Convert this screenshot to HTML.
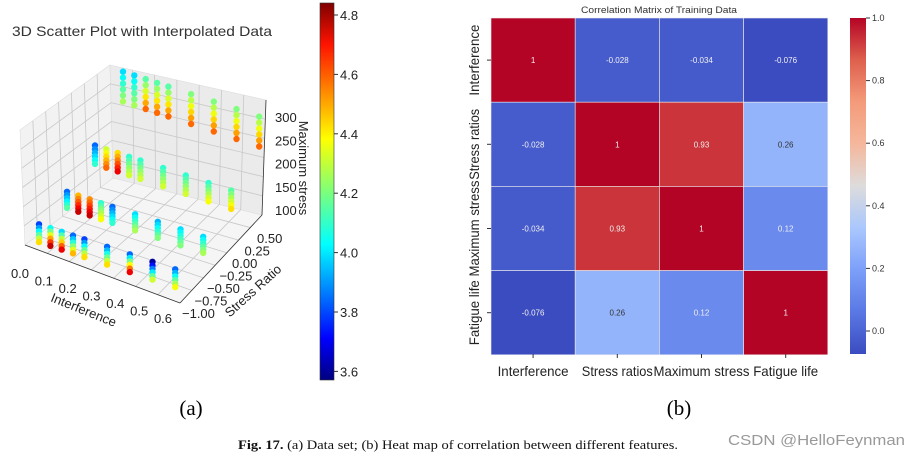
<!DOCTYPE html>
<html><head><meta charset="utf-8"><style>
body{margin:0;background:#fff;width:908px;height:456px;overflow:hidden;font-family:"Liberation Sans",sans-serif}
svg{position:absolute;left:0;top:0}
</style></head><body>
<svg id="s" width="908" height="456" viewBox="0 0 908 456">
<text x="12" y="36" font-size="14" fill="#333" textLength="260" lengthAdjust="spacingAndGlyphs">3D Scatter Plot with Interpolated Data</text>
<g id="panes">
<polygon points="20,130 110,65 113,178 25,245" fill="#f2f2f2" stroke="#ddd" stroke-width="0.6"/>
<polygon points="110,65 266,100 262,215 113,178" fill="#ebebeb" stroke="#ddd" stroke-width="0.6"/>
<polygon points="25,245 113,178 262,215 180,303" fill="#f5f5f5" stroke="#ddd" stroke-width="0.6"/>
</g>
<g id="grid" stroke="#c8c8c8" stroke-width="0.8" fill="none"></g>
<g id="dots"></g>
<line x1="266" y1="100" x2="262" y2="215" stroke="#333" stroke-width="0.8"/>
<line x1="25" y1="245" x2="180" y2="303" stroke="#333" stroke-width="0.8"/>
<line x1="180" y1="303" x2="262" y2="215" stroke="#333" stroke-width="0.8"/>
<g font-size="13" fill="#222" id="ticks3d"></g>
<text transform="translate(82,314) rotate(22)" font-size="13" text-anchor="middle" fill="#222">Interference</text>
<text transform="translate(256,294) rotate(-42)" font-size="13" text-anchor="middle" fill="#222">Stress Ratio</text>
<text transform="translate(299,168) rotate(90)" font-size="13" text-anchor="middle" fill="#222">Maximum stress</text>
<defs><linearGradient id="jet" x1="0" y1="1" x2="0" y2="0">
<stop offset="0" stop-color="#00007f"/><stop offset="0.11" stop-color="#0000ff"/><stop offset="0.36" stop-color="#00ffff"/><stop offset="0.5" stop-color="#7dff7a"/><stop offset="0.64" stop-color="#ffff00"/><stop offset="0.89" stop-color="#ff1300"/><stop offset="1" stop-color="#7f0000"/></linearGradient>
<linearGradient id="cw" x1="0" y1="1" x2="0" y2="0">
<stop offset="0" stop-color="#3b4cc0"/><stop offset="0.125" stop-color="#5a78e4"/><stop offset="0.25" stop-color="#7c9ff9"/><stop offset="0.375" stop-color="#aac7fd"/><stop offset="0.5" stop-color="#dddcdc"/><stop offset="0.625" stop-color="#f5b79c"/><stop offset="0.75" stop-color="#f49b7a"/><stop offset="0.875" stop-color="#de604d"/><stop offset="1" stop-color="#b40426"/></linearGradient></defs>
<rect x="320" y="3" width="14" height="377" fill="url(#jet)" stroke="#333" stroke-width="0.6"/>
<g id="cb1" font-size="13" fill="#222"></g>
<text x="659" y="13" font-size="9" text-anchor="middle" fill="#333" textLength="156" lengthAdjust="spacingAndGlyphs">Correlation Matrix of Training Data</text>
<g id="heat"></g>
<rect x="850" y="18" width="16" height="336" fill="url(#cw)"/>
<g id="cb2" font-size="9" fill="#333"></g>
<text x="191" y="415" font-size="21" text-anchor="middle" font-family="Liberation Serif,serif">(a)</text>
<text x="679" y="415" font-size="21" text-anchor="middle" font-family="Liberation Serif,serif">(b)</text>
<text x="238" y="449" font-size="13" font-family="Liberation Serif,serif" fill="#111" textLength="440" lengthAdjust="spacingAndGlyphs"><tspan font-weight="bold">Fig. 17.</tspan> (a) Data set; (b) Heat map of correlation between different features.</text>
<text x="728" y="445" font-size="15" fill="#999" textLength="177" lengthAdjust="spacingAndGlyphs">CSDN @HelloFeynman</text>
</svg>
<script>
const NS="http://www.w3.org/2000/svg";
const interference=[0,0.05,0.1,0.15,0.2,0.3,0.4,0.5,0.6];
const stressRatios=[-1,-0.5,0,0.5];
const stressMin=[105,128,168,240];
const stressMax=[136,156,200,292];
const lifeTop=[[3.8,4.05,4.0,3.85,3.8,3.85,3.85,3.6,3.85],[3.85,4.45,4.5,4.1,3.85,4.0,3.95,4.0,4.0],[3.85,4.3,4.4,4.1,4.1,4.1,4.1,4.1,4.15],[4.0,4.0,4.15,4.15,4.15,4.2,4.2,4.2,4.2]];
const lifeBottom=[[4.4,4.75,4.7,4.45,4.4,4.4,4.7,4.3,4.35],[4.15,4.75,4.75,4.35,4.1,4.25,4.2,4.2,4.25],[4.1,4.55,4.7,4.3,4.3,4.3,4.3,4.35,4.4],[4.25,4.25,4.55,4.55,4.55,4.55,4.55,4.55,4.55]];
const correlations=[[1,-0.028,-0.034,-0.076],[-0.028,1,0.93,0.26],[-0.034,0.93,1,0.12],[-0.076,0.26,0.12,1]];
const features=["Interference","Stress ratios","Maximum stress","Fatigue life"];
const lifeTicks=[3.6,3.8,4.0,4.2,4.4,4.6,4.8];
const corrTicks=[0.0,0.2,0.4,0.6,0.8,1.0];
const xTicks=[0,0.1,0.2,0.3,0.4,0.5,0.6];
const yTicks=[-1,-0.75,-0.5,-0.25,0,0.25,0.5];
const zTicks=[100,150,200,250,300];

function proj(i,r,s){return [39+i*227+(r+1)*56, 245+i*75-(r+1)*42-(s-100)*0.575];}
function jet(v){const t=Math.max(0,Math.min(1,(v-3.56)/(4.84-3.56)));
 const c=x=>Math.round(255*Math.max(0,Math.min(1,1.5-Math.abs(4*t-x))));return `rgb(${c(3)},${c(2)},${c(1)})`;}
const CW=[[59,76,192],[90,120,228],[124,159,249],[170,199,253],[221,220,220],[245,183,156],[244,155,122],[222,96,77],[180,4,38]];
function cw(v){let t=(v+0.076)/1.076;t=Math.max(0,Math.min(1,t))*8;const k=Math.min(7,Math.floor(t)),f=t-k;
 return `rgb(${CW[k].map((a,j)=>Math.round(a+(CW[k+1][j]-a)*f)).join(',')})`;}
function mk(tag,at,parent,txt){const e=document.createElementNS(NS,tag);for(const k in at)e.setAttribute(k,at[k]);if(txt!==undefined)e.textContent=txt;parent.appendChild(e);return e;}

const grid=document.getElementById('grid');
function lerp(a,b,t){return [a[0]+(b[0]-a[0])*t,a[1]+(b[1]-a[1])*t];}
const BLt=[110,65],BLb=[113,178],BRt=[266,100],BRb=[262,215],FLt=[20,130],FLb=[25,245],FR=[180,303];
for(let k=1;k<7;k++){const t=k/7;
 let a=lerp(BLt,BRt,t),b=lerp(BLb,BRb,t);mk('line',{x1:a[0],y1:a[1],x2:b[0],y2:b[1]},grid);
 a=lerp(FLb,FR,t);b=lerp(BLb,BRb,t);mk('line',{x1:a[0],y1:a[1],x2:b[0],y2:b[1]},grid);
 a=lerp(FLt,BLt,t);b=lerp(FLb,BLb,t);mk('line',{x1:a[0],y1:a[1],x2:b[0],y2:b[1]},grid);
 a=lerp(BRb,FR,t);b=lerp(BLb,FLb,t);mk('line',{x1:a[0],y1:a[1],x2:b[0],y2:b[1]},grid);}
for(let k=1;k<6;k++){const t=k/6;
 let a=lerp(BLt,BLb,t),b=lerp(BRt,BRb,t);mk('line',{x1:a[0],y1:a[1],x2:b[0],y2:b[1]},grid);
 a=lerp(FLt,FLb,t);mk('line',{x1:a[0],y1:a[1],x2:lerp(BLt,BLb,t)[0],y2:lerp(BLt,BLb,t)[1]},grid);}

const dots=document.getElementById('dots');
for(let r=stressRatios.length-1;r>=0;r--){
 for(let c=interference.length-1;c>=0;c--){
  const n=6;
  for(let k=0;k<n;k++){const f=k/(n-1);
   const s=stressMax[r]-(stressMax[r]-stressMin[r])*f;
   const life=lifeTop[r][c]+(lifeBottom[r][c]-lifeTop[r][c])*f;
   const p=proj(interference[c],stressRatios[r],s);
   const d=mk('circle',{cx:p[0].toFixed(1),cy:p[1].toFixed(1),r:3.2,fill:jet(life)},dots);
   
   
  }}}

const t3=document.getElementById('ticks3d');
xTicks.forEach((v,k)=>{const p=lerp([20,278],[163,323],k/6);const e=mk('text',{x:p[0],y:p[1],'text-anchor':'middle'},t3,v.toFixed(1));
 });
yTicks.forEach((v,k)=>{const p=lerp([182,318],[257,243],k/6);const e=mk('text',{x:p[0],y:p[1]},t3,(v<0?'\u2212'+(-v).toFixed(2):v.toFixed(2)));
 });
zTicks.forEach(v=>{const y=215-(v-100)*0.465;const e=mk('text',{x:275,y:y},t3,v);
 });

const cb1=document.getElementById('cb1');
lifeTicks.forEach(v=>{const y=15+(4.8-v)*297;
 mk('line',{x1:334,y1:y,x2:338,y2:y,stroke:'#333'},cb1);
 const e=mk('text',{x:340,y:y+5},cb1,v.toFixed(1));});

const heat=document.getElementById('heat');const hx=491,hy=18,cs=84.2;
const labW=[71,71,96,65];
correlations.forEach((row,i)=>row.forEach((v,j)=>{
 const r=mk('rect',{x:hx+j*cs,y:hy+i*cs,width:cs,height:cs,fill:cw(v),stroke:'#eee','stroke-width':0.6},heat);
 
 const t=mk('text',{x:hx+j*cs+cs/2,y:hy+i*cs+cs/2+3,'font-size':8,'text-anchor':'middle',fill:(Math.abs(v-0.26)<0.01?'#333':'#f0f0f0')},heat,String(v));
 
}));
features.forEach((f,k)=>{
 const a=mk('text',{x:hx+k*cs+cs/2,y:376,'font-size':14,'text-anchor':'middle',fill:'#222',textLength:labW[k],lengthAdjust:'spacingAndGlyphs'},heat,f);
 
 const yc=hy+k*cs+cs/2;
 const b=mk('text',{transform:`translate(479,${yc}) rotate(-90)`,'font-size':14,'text-anchor':'middle',fill:'#222',textLength:labW[k],lengthAdjust:'spacingAndGlyphs'},heat,f);
 
 mk('line',{x1:hx+k*cs+cs/2,y1:354,x2:hx+k*cs+cs/2,y2:358,stroke:'#333'},heat);
 mk('line',{x1:487,y1:yc,x2:491,y2:yc,stroke:'#333'},heat);
});
const cb2=document.getElementById('cb2');
corrTicks.forEach(v=>{const y=331-v*313;
 mk('line',{x1:866,y1:y,x2:870,y2:y,stroke:'#333'},cb2);
 const e=mk('text',{x:872,y:y+3},cb2,v.toFixed(1));});
</script>
</body></html>
